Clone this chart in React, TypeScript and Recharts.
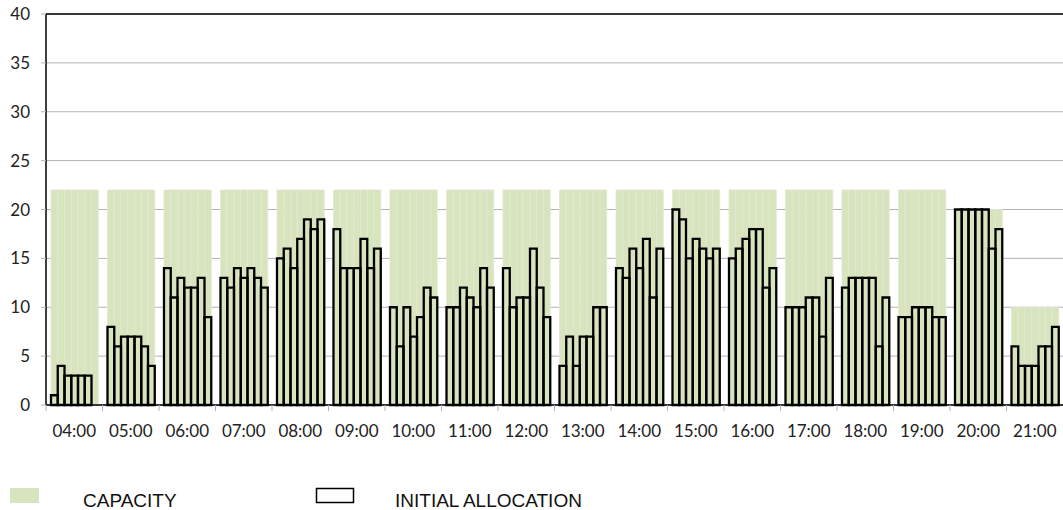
import React from "react";
import {
  BarChart,
  Bar,
  XAxis,
  YAxis,
  CartesianGrid,
  ReferenceLine,
} from "recharts";

const hours = [
  "04:00", "05:00", "06:00", "07:00", "08:00", "09:00", "10:00", "11:00", "12:00",
  "13:00", "14:00", "15:00", "16:00", "17:00", "18:00", "19:00", "20:00", "21:00",
];

const capacity = [22, 22, 22, 22, 22, 22, 22, 22, 22, 22, 22, 22, 22, 22, 22, 22, 20, 10];

// 7 sub-slots per hour
const initialAllocation = [
  [1, 4, 3, 3, 3, 3, 0],
  [8, 6, 7, 7, 7, 6, 4],
  [14, 11, 13, 12, 12, 13, 9],
  [13, 12, 14, 13, 14, 13, 12],
  [15, 16, 14, 17, 19, 18, 19],
  [18, 14, 14, 14, 17, 14, 16],
  [10, 6, 10, 7, 9, 12, 11],
  [10, 10, 12, 11, 10, 14, 12],
  [14, 10, 11, 11, 16, 12, 9],
  [4, 7, 4, 7, 7, 10, 10],
  [14, 13, 16, 14, 17, 11, 16],
  [20, 19, 15, 17, 16, 15, 16],
  [15, 16, 17, 18, 18, 12, 14],
  [10, 10, 10, 11, 11, 7, 13],
  [12, 13, 13, 13, 13, 6, 11],
  [9, 9, 10, 10, 10, 9, 9],
  [20, 20, 20, 20, 20, 16, 18],
  [6, 4, 4, 4, 6, 6, 8],
];

const yTicks = [0, 5, 10, 15, 20, 25, 30, 35, 40];

const SLOTS = [0, 1, 2, 3, 4, 5, 6];

const data = hours.map((hour, i) => {
  const row: Record<string, string | number> = { hour };
  SLOTS.forEach((s) => {
    row[`cap${s}`] = capacity[i];
    row[`a${s}`] = initialAllocation[i][s];
  });
  return row;
});

const W = 1063;
const H = 470;
const Y_AXIS_W = 46;
const BAND = (W - Y_AXIS_W) / hours.length;

const CAP_GREEN = "#d7e4bd";
const GRID = "#b3b3b3";
const AXIS_FONT = "Lato, 'Open Sans', sans-serif";

function HourTick(props: any) {
  const { x, y, payload } = props;
  return (
    <g>
      <line x1={x - BAND / 2} x2={x - BAND / 2} y1={y} y2={y + 6} stroke={GRID} />
      <text
        x={x}
        y={y + 32}
        textAnchor="middle"
        fontSize={17}
        fontFamily={AXIS_FONT}
        fill="#222"
      >
        {payload.value}
      </text>
    </g>
  );
}

export default function App() {
  return (
    <div
      style={{
        position: "absolute",
        left: 0,
        top: 0,
        width: W,
        height: 510,
        background: "#fff",
      }}
    >
      <BarChart
        width={W}
        height={H}
        data={data}
        margin={{ top: 14, right: 0, left: 0, bottom: 15 }}
        barSize={6.75}
        barGap={0}
      >
        <CartesianGrid horizontal vertical={false} stroke={GRID} />
        <XAxis xAxisId="cap" dataKey="hour" hide />
        <XAxis
          xAxisId="alloc"
          dataKey="hour"
          height={50}
          interval={0}
          tickLine={false}
          tickSize={0}
          tickMargin={0}
          axisLine={{ stroke: "#000", strokeWidth: 1.5 }}
          tick={<HourTick />}
        />
        <YAxis
          width={Y_AXIS_W}
          domain={[0, 40]}
          ticks={yTicks}
          interval={0}
          tickSize={5}
          tickMargin={11}
          tickLine={{ stroke: GRID }}
          axisLine={{ stroke: "#000", strokeWidth: 1.5 }}
          tick={{ fontSize: 17, fontFamily: AXIS_FONT, fill: "#222" }}
        />
        {SLOTS.map((s) => (
          <Bar
            key={`cap${s}`}
            xAxisId="cap"
            dataKey={`cap${s}`}
            fill={CAP_GREEN}
            stroke="#e2e9d4"
            strokeWidth={0.8}
            isAnimationActive={false}
          />
        ))}
        {SLOTS.map((s) => (
          <Bar
            key={`a${s}`}
            xAxisId="alloc"
            dataKey={`a${s}`}
            fill="none"
            stroke="#000"
            strokeWidth={2.3}
            isAnimationActive={false}
          />
        ))}
        <ReferenceLine xAxisId="alloc" y={40} stroke="#000" strokeWidth={1.5} />
      </BarChart>
      <svg
        width={W}
        height={510}
        style={{ position: "absolute", left: 0, top: 0, pointerEvents: "none" }}
      >
        <rect x={10} y={488} width={29} height={15} fill={CAP_GREEN} />
        <text x={83} y={507} fontSize={19} fontFamily="'Liberation Sans', Arial, sans-serif" fill="#111">
          CAPACITY
        </text>
        <rect x={316.5} y={488.5} width={37} height={14} fill="none" stroke="#000" strokeWidth={1.5} />
        <text x={395} y={507} fontSize={19} fontFamily="'Liberation Sans', Arial, sans-serif" fill="#111">
          INITIAL ALLOCATION
        </text>
      </svg>
    </div>
  );
}
